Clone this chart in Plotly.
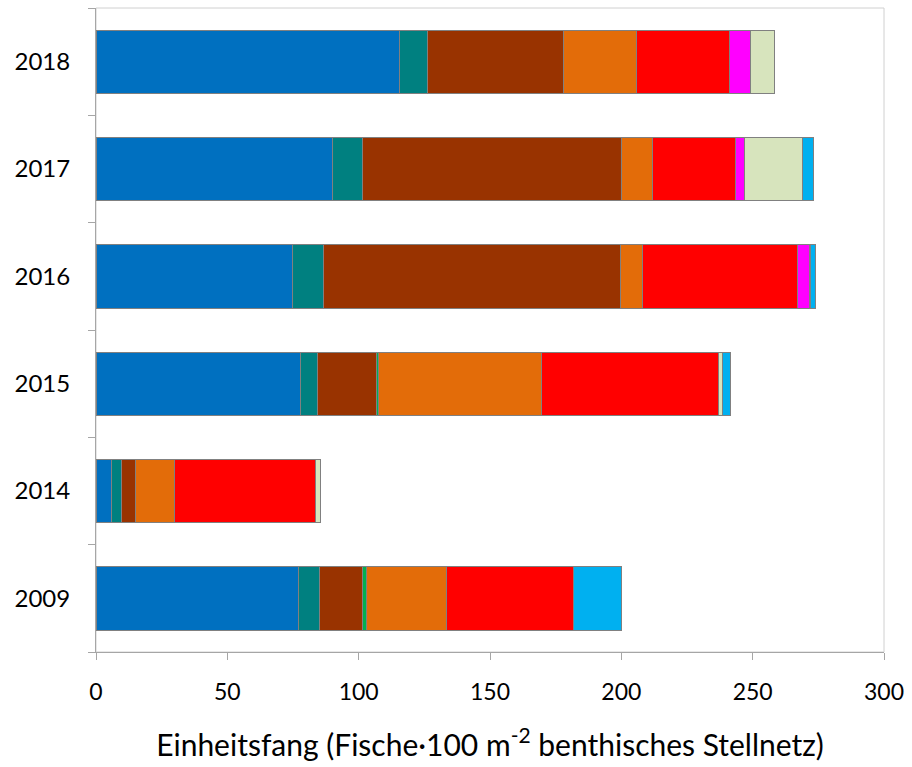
import plotly.graph_objects as go

# Survey years (bottom to top) and catch per unit effort per species group
years = ["2009", "2014", "2015", "2016", "2017", "2018"]

series_names = ["Gruppe 1", "Gruppe 2", "Gruppe 3", "Gruppe 4", "Gruppe 5",
                "Gruppe 6", "Gruppe 7", "Gruppe 8", "Gruppe 9"]
series_colors = ["#0070C0", "#008080", "#993300", "#00B050", "#E36C09",
                 "#FF0000", "#FF00FF", "#D7E4BD", "#00B0F0"]

gruppe_1 = [77.0, 5.8, 77.8, 74.7, 89.9, 115.4]
gruppe_2 = [8.1, 3.8, 6.4, 11.8, 11.7, 10.9]
gruppe_3 = [16.5, 5.6, 22.4, 113.0, 98.5, 51.5]
gruppe_4 = [1.2, 0.0, 1.0, 0.0, 0.0, 0.0]
gruppe_5 = [30.5, 14.6, 62.0, 8.5, 11.9, 27.8]
gruppe_6 = [48.5, 53.7, 67.3, 59.0, 31.6, 35.6]
gruppe_7 = [0.0, 0.0, 0.0, 4.6, 3.4, 8.0]
gruppe_8 = [0.0, 1.8, 1.7, 0.6, 22.1, 9.3]
gruppe_9 = [18.3, 0.0, 2.8, 1.7, 4.1, 0.0]

series_values = [gruppe_1, gruppe_2, gruppe_3, gruppe_4, gruppe_5,
                 gruppe_6, gruppe_7, gruppe_8, gruppe_9]

x_ticks = [0, 50, 100, 150, 200, 250, 300]

font_family = "Lato, Open Sans, sans-serif"

fig = go.Figure()
for name, color, vals in zip(series_names, series_colors, series_values):
    fig.add_trace(go.Bar(
        y=years, x=vals, name=name, orientation="h",
        marker=dict(color=color, line=dict(color="#808080", width=1)),
        showlegend=False,
    ))

fig.update_layout(
    barmode="stack",
    bargap=0.41,
    width=912, height=767,
    margin=dict(l=96, r=24, t=8, b=115),
    paper_bgcolor="white",
    plot_bgcolor="white",
    font=dict(family=font_family, size=23, color="black"),
    xaxis=dict(
        range=[0, 300],
        tickmode="array", tickvals=x_ticks,
        ticks="outside", ticklen=7, tickcolor="#A6A6A6",
        showgrid=False, zeroline=False,
        showline=True, linecolor="#A6A6A6", linewidth=1,
        tickfont=dict(size=23),
        ticklabelstandoff=12,
        title=dict(text="Einheitsfang (Fische·100 m<sup>-2</sup> benthisches Stellnetz)",
                   font=dict(size=30), standoff=31),
    ),
    yaxis=dict(
        type="category",
        categoryorder="array", categoryarray=years,
        tickson="boundaries",
        ticks="outside", ticklen=7, tickcolor="#A6A6A6",
        showgrid=False, zeroline=False,
        showline=True, linecolor="#A6A6A6", linewidth=1,
        tickfont=dict(size=24),
        ticklabelstandoff=20,
    ),
    shapes=[dict(type="rect", xref="paper", yref="paper", x0=0, y0=0, x1=1, y1=1,
                 line=dict(color="#D0D0D0", width=1), layer="below")],
)

fig.write_html("out.html")
